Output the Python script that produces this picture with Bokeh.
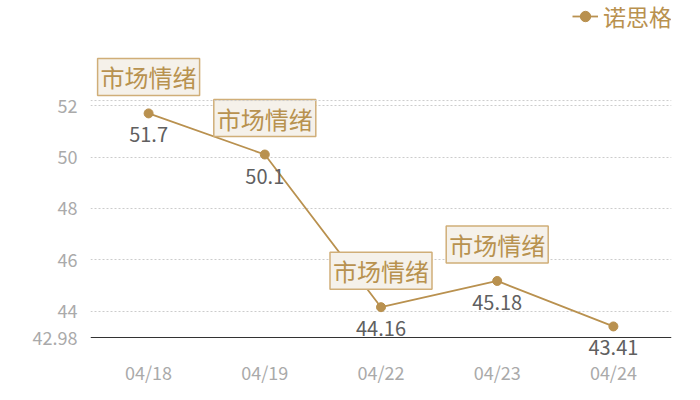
from bokeh.plotting import figure
from bokeh.models import (ColumnDataSource, FixedTicker, Span, Legend, LegendItem,
                          Range1d, CustomJSTickFormatter)
from bokeh.embed import file_html
from bokeh.resources import INLINE
from bokeh.core.properties import value

# ---- data ----
dates = ["04/18", "04/19", "04/22", "04/23", "04/24"]
values = [51.7, 50.1, 44.16, 45.18, 43.41]
value_labels = ["51.7", "50.1", "44.16", "45.18", "43.41"]
note_dates = ["04/18", "04/19", "04/22", "04/23"]
note_values = [51.7, 50.1, 44.16, 45.18]
note_texts = ["市场情绪", "市场情绪", "市场情绪", "市场情绪"]
series_name = "诺思格"
y_min = 42.98
y_max = 52.2
y_ticks = [42.98, 44, 46, 48, 50, 52]
grid_ticks = [44, 46, 48, 50, 52]

GOLD = "#b9914f"
FONT = "Noto Sans CJK SC"

# the frame extends beyond the visible axis area so that labels are not clipped
PX_PER_UNIT = 25.7
view_start = y_min - 21 / PX_PER_UNIT
view_end = y_min + 337 / PX_PER_UNIT

src = ColumnDataSource(dict(x=dates, y=values, lab=value_labels))
nsrc = ColumnDataSource(dict(x=note_dates, y=note_values, t=note_texts))

p = figure(frame_width=581, frame_height=358, x_range=dates,
           y_range=Range1d(view_start, view_end),
           output_backend="svg", toolbar_location=None,
           min_border_left=90, min_border_right=13, min_border_top=0, min_border_bottom=26)
p.outline_line_color = None
p.background_fill_color = "white"

# axes
p.yaxis.ticker = FixedTicker(ticks=y_ticks)
p.yaxis.formatter = CustomJSTickFormatter(code="return tick.toString()")
p.yaxis.axis_line_color = None
p.yaxis.major_tick_line_color = None
p.yaxis.minor_tick_line_color = None
p.yaxis.major_label_text_color = "#aaaaaa"
p.yaxis.major_label_text_font = FONT
p.yaxis.major_label_text_font_size = "18px"
p.yaxis.major_label_standoff = 7

p.xaxis.axis_line_color = None
p.xaxis.major_tick_line_color = None
p.xaxis.minor_tick_line_color = None
p.xaxis.major_tick_out = 0
p.xaxis.major_label_text_color = "#aaaaaa"
p.xaxis.major_label_text_font = FONT
p.xaxis.major_label_text_font_size = "18px"
p.xaxis.major_label_standoff = 0

p.xgrid.grid_line_color = None
p.ygrid.ticker = FixedTicker(ticks=grid_ticks)
p.ygrid.grid_line_color = "#cccccc"
p.ygrid.grid_line_dash = "2 2"
p.add_layout(Span(location=y_max, dimension="width", line_color="#cccccc",
                  line_dash="2 2", line_width=1))
p.add_layout(Span(location=y_min, dimension="width", line_color="#333333", line_width=1))

# series
line_r = p.line("x", "y", source=src, line_color=GOLD, line_width=1.8)
pts_r = p.scatter("x", "y", source=src, size=9, fill_color=GOLD, line_color=GOLD)

# value labels
p.text("x", "y", text="lab", source=src, text_align="center", text_baseline="top",
       y_offset=14, text_color="#606060", text_font=value(FONT), text_font_size="20px")

# annotation boxes
p.text("x", "y", text="t", source=nsrc, text_align="center", text_baseline="bottom",
       y_offset=-18, text_color="#b8924f", text_font=value(FONT), text_font_size="24px",
       background_fill_color="#f5f1ea", border_line_color="#d0ae78", border_line_width=1.5,
       padding=(3, 1))

legend = Legend(items=[LegendItem(label=series_name, renderers=[line_r, pts_r])],
                location=(482, 325), orientation="horizontal",
                background_fill_alpha=0, border_line_alpha=0,
                label_text_font=FONT, label_text_font_size="23px", label_text_color=GOLD,
                label_height=28, glyph_height=28,
                glyph_width=26, padding=0, margin=0, label_standoff=5)
p.add_layout(legend, "center")

open("out.html", "w").write(file_html(p, INLINE))
